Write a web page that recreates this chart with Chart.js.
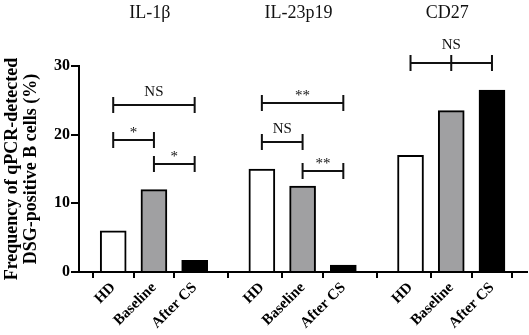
<!DOCTYPE html>
<html lang="en">
<head>
<meta charset="UTF-8">
<title>qPCR-detected DSG-positive B cells</title>
<script src="https://cdn.jsdelivr.net/npm/chart.js"></script>
<style>
    body { margin: 0; background: #fff; }
    canvas { display: block; }
</style>
</head>
<body>
<canvas id="freqChart" width="529" height="335"></canvas>
<script>
// data
const groups = ['IL-1β', 'IL-23p19', 'CD27'];
const conditions = ['HD', 'Baseline', 'After CS'];
const hdValues = [6, 15, 17];
const baselineValues = [12, 12.5, 23.5];
const afterCsValues = [1.7, 1, 26.5];
const yTicks = [0, 10, 20, 30];

// significance brackets (group, from condition, to condition, height, label)
const sigGroup = [0, 0, 0, 1, 1, 1, 2];
const sigFrom = [0, 0, 1, 0, 0, 1, 0];
const sigTo = [2, 1, 2, 2, 1, 2, 2];
const sigHeight = [24.3, 19.2, 15.7, 24.6, 18.9, 14.7, 30.5];
const sigLabel = ['NS', '*', '*', '**', 'NS', '**', 'NS'];
const sigMidTick = [false, false, false, false, false, false, true];

const groupStep = 3.65; // gap between groups, in bar slots
const barColors = ['#ffffff', '#a0a0a2', '#000000'];
const serif = "'Liberation Serif', 'Times New Roman', serif";

function xPos(g, i) { return g * groupStep + i; }

const seriesByCondition = [hdValues, baselineValues, afterCsValues];
const points = [];
const colors = [];
const tickPositions = [];
groups.forEach((g, gi) => {
    conditions.forEach((c, ci) => {
        points.push({ x: xPos(gi, ci), y: seriesByCondition[ci][gi] });
        colors.push(barColors[ci]);
        tickPositions.push(xPos(gi, ci));
    });
});

// titles over groups + significance brackets
const annotations = {
    id: 'annotations',
    afterDraw(chart) {
        const ctx = chart.ctx;
        const xs = chart.scales.x, ys = chart.scales.y;
        ctx.save();
        ctx.fillStyle = '#111';
        ctx.strokeStyle = '#111';
        ctx.textAlign = 'center';
        ctx.font = '18px ' + serif;
        ctx.textBaseline = 'middle';
        groups.forEach((g, gi) => {
            ctx.fillText(g, xs.getPixelForValue(xPos(gi, 1)) - 4, 13);
        });

        ctx.lineWidth = 2;
        ctx.textBaseline = 'alphabetic';
        sigLabel.forEach((lab, k) => {
            const x1 = xs.getPixelForValue(xPos(sigGroup[k], sigFrom[k]));
            const x2 = xs.getPixelForValue(xPos(sigGroup[k], sigTo[k]));
            const y = Math.round(ys.getPixelForValue(sigHeight[k]));
            ctx.beginPath();
            ctx.moveTo(x1, y); ctx.lineTo(x2, y);
            ctx.moveTo(x1, y - 8); ctx.lineTo(x1, y + 8);
            ctx.moveTo(x2, y - 8); ctx.lineTo(x2, y + 8);
            if (sigMidTick[k]) {
                const xm = (x1 + x2) / 2;
                ctx.moveTo(xm, y - 8); ctx.lineTo(xm, y + 8);
            }
            ctx.stroke();
            ctx.font = '15px ' + serif;
            const off = lab === 'NS' ? (sigMidTick[k] ? 14 : 9) : 3;
            ctx.fillText(lab, (x1 + x2) / 2, y - off);
        });
        ctx.restore();
    }
};

const ctx = document.getElementById('freqChart').getContext('2d');
const freqChart = new Chart(ctx, {
    type: 'bar',
    data: {
        datasets: [{
            data: points,
            backgroundColor: colors,
            borderColor: '#000',
            borderWidth: 2,
            barThickness: 26
        }]
    },
    options: {
        responsive: false,
        animation: false,
        layout: { padding: { top: 66, right: 2, left: 0, bottom: 0 } },
        plugins: { legend: { display: false }, tooltip: { enabled: false } },
        scales: {
            x: {
                type: 'linear',
                min: -0.84,
                max: 10.16,
                offset: false,
                afterBuildTicks: (scale) => { scale.ticks = tickPositions.map(v => ({ value: v })); },
                afterFit: (scale) => { scale.height = 63; },
                grid: { drawOnChartArea: false, drawTicks: true, tickLength: 6, color: '#000', lineWidth: 2 },
                border: { color: '#000', width: 2 },
                ticks: {
                    autoSkip: false,
                    minRotation: 45,
                    maxRotation: 45,
                    padding: 1,
                    color: '#000',
                    font: { family: serif, size: 15, weight: 'bold' },
                    callback: (value, index) => conditions[index % 3]
                }
            },
            y: {
                min: 0,
                max: 30,
                afterBuildTicks: (scale) => { scale.ticks = yTicks.map(v => ({ value: v })); },
                afterFit: (scale) => { scale.width = 79; },
                grid: { drawOnChartArea: false, drawTicks: true, tickLength: 8, color: '#000', lineWidth: 2 },
                border: { color: '#000', width: 2 },
                ticks: {
                    padding: 1,
                    color: '#000',
                    font: { family: serif, size: 16, weight: 'bold' }
                },
                title: {
                    display: true,
                    text: ['Frequency of qPCR-detected', 'DSG-positive B cells (%)'],
                    color: '#000',
                    padding: { top: 3, bottom: 0 },
                    font: { family: serif, size: 18, weight: 'bold', lineHeight: 1.05 }
                }
            }
        }
    },
    plugins: [annotations]
});
</script>
</body>
</html>
